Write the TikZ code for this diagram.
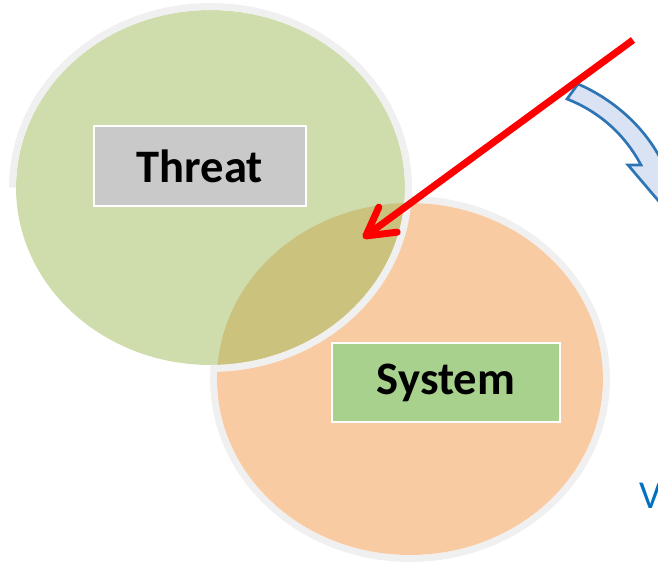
\documentclass[tikz,border=0pt]{standalone}
\usepackage{fontspec}
\setmainfont{Carlito}
\usetikzlibrary{arrows.meta}
\definecolor{threatgreen}{HTML}{CFDCAC}
\definecolor{systemorange}{HTML}{F9CBA3}
\definecolor{overlapolive}{HTML}{CBC27D}
\definecolor{rimgray}{HTML}{F0F0F0}
\definecolor{labelgray}{HTML}{C9C9C9}
\definecolor{labelgreen}{HTML}{A9D18E}
\definecolor{flowblue}{HTML}{2E75B6}
\definecolor{flowfill}{HTML}{DAE3F3}
\definecolor{vblue}{HTML}{0070C0}

\begin{document}
\begin{tikzpicture}[
  x=0.02cm,
  y=-0.02cm,
  rim/.style={draw=rimgray, line width=0.14cm},
  tag/.style={
    draw=white,
    line width=0.05cm,
    inner sep=0pt,
    font=\bfseries\fontsize{26.5}{30}\selectfont
  },
  hitarrow/.style={
    draw=red,
    line width=0.14cm,
    -{Straight Barb[length=0.55cm,width=0.62cm,line cap=round,line join=round]}
  }
]
\clip (0,0) rectangle (658,563);
\coordinate (tc) at (210.5,187.5);
\coordinate (sc) at (410,379);

% system circle
\draw[rim] (sc) ellipse [x radius=3.93cm, y radius=3.59cm];
\fill[systemorange] (sc) ellipse [x radius=3.86cm, y radius=3.52cm];

% threat circle and the overlap
\fill[threatgreen] (tc) ellipse [x radius=3.89cm, y radius=3.55cm];
\begin{scope}
  \clip (sc) ellipse [x radius=3.86cm, y radius=3.52cm];
  \fill[overlapolive] (tc) ellipse [x radius=3.89cm, y radius=3.55cm];
\end{scope}
\draw[rim] ([xshift=-3.96cm]tc)
  arc[start angle=180, end angle=-90, x radius=3.96cm, y radius=3.62cm];

\node[tag, fill=labelgray, minimum width=4.24cm, minimum height=1.6cm]
  (threat) at (200,166) {Threat};
\node[tag, fill=labelgreen, minimum width=4.56cm, minimum height=1.58cm]
  (system) at (446,382.5) {System};

% curved block arrow, cut at the right edge
\filldraw[fill=flowfill, draw=flowblue, line width=0.054cm]
  (567,99) -- (578,84)
  .. controls (615,100) and (648,130) .. (664,166)
  -- (676,167) -- (662,205) -- (628,165) -- (641,165)
  .. controls (625,135) and (600,112) .. (567,99) -- cycle;

\node[text=vblue, font=\fontsize{22.5}{24}\selectfont, anchor=base west, inner sep=0pt]
  (vlabel) at (639,508) {V};

\coordinate (src) at (633,40);
\coordinate (hit) at (363,238);
\draw[hitarrow] (src) -- (hit);
\end{tikzpicture}
\end{document}
